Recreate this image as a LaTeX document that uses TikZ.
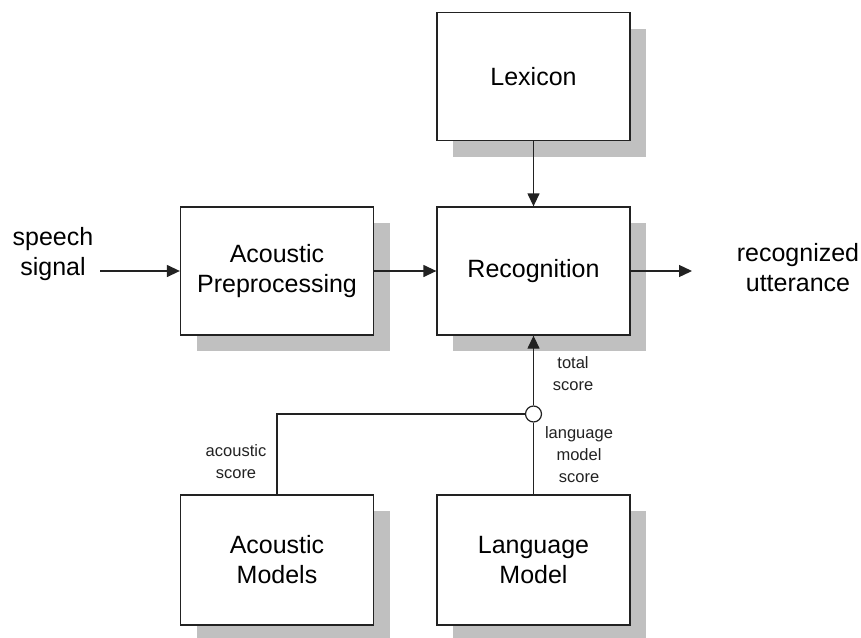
\documentclass[tikz,border=0pt]{standalone}
\usepackage{fontspec}
\setmainfont{Liberation Sans}
\usetikzlibrary{arrows.meta,shadows}
\definecolor{shadowgray}{RGB}{192,192,192}
\definecolor{linegray}{RGB}{34,34,34}
\begin{document}
\begin{tikzpicture}[x=1pt,y=-1pt,
  blockbox/.style={draw=linegray, line width=1.3pt, fill=white, minimum width=193pt, minimum height=128pt,
    inner sep=0pt, align=center, font=\fontsize{25}{30}\selectfont,
    drop shadow={shadow xshift=16pt, shadow yshift=-16pt, fill=shadowgray, opacity=1, draw=none}},
  biglabel/.style={align=center, font=\fontsize{25}{30}\selectfont, inner sep=0pt},
  smalllabel/.style={align=center, font=\fontsize{16.5}{22}\selectfont, inner sep=0pt, text=linegray},
  conn/.style={draw=linegray, line width=1.3pt},
  arr/.style={conn, -{Triangle[length=13pt,width=12pt]}}]
\useasboundingbox (0,0) rectangle (861,637);
\fill[white] (0,0) rectangle (861,637);

\node[blockbox] (lex) at (533.5,76.5) {Lexicon};
\node[blockbox] (pre) at (277,271) {Acoustic\\Preprocessing};
\node[blockbox] (rec) at (533.5,271) {Recognition};
\node[blockbox, minimum height=130pt] (am) at (277,560) {Acoustic\\Models};
\node[blockbox, minimum height=130pt] (lm) at (533.5,560) {Language\\Model};

\node[draw=linegray, line width=1.2pt, fill=white, circle, minimum size=16pt, inner sep=0pt] (sum) at (533.5,414) {};

\node[biglabel] (speech) at (53,254) {speech\\signal};
\node[biglabel] (utter) at (798,268) {recognized\\utterance};
\coordinate (sin) at (100,271);
\coordinate (sout) at (692,271);

\node[smalllabel] (total) at (573,374) {total\\score};
\node[smalllabel] (lms) at (579,455) {language\\model\\score};
\node[smalllabel] (acs) at (236,462) {acoustic\\score};

\draw[arr] (sin) -- (pre.west);
\draw[arr] (pre.east) -- (rec.west);
\draw[arr] (rec.east) -- (sout);
\draw[arr] (lex.south) -- (rec.north);
\draw[arr] (sum.north) -- (rec.south);
\draw[conn] (lm.north) -- (sum.south);
\draw[conn] (am.north) |- (sum.west);
\end{tikzpicture}
\end{document}
